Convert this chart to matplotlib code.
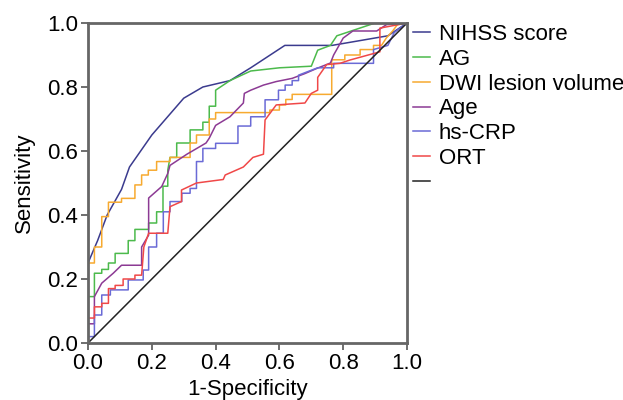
import matplotlib
matplotlib.use("Agg")
import matplotlib.pyplot as plt

plt.rcParams["font.family"] = ["Liberation Sans", "DejaVu Sans"]

# ROC curves (1-specificity, sensitivity)
nihss_x = [0, 0, 0.03, 0.06, 0.105, 0.13, 0.20, 0.30, 0.36, 0.445, 0.51, 0.617, 0.765, 0.94, 1.0]
nihss_y = [0, 0.25, 0.32, 0.40, 0.48, 0.55, 0.65, 0.765, 0.80, 0.82, 0.86, 0.93, 0.93, 0.96, 1.0]

ag_x = [0, 0, 0.02, 0.02, 0.043, 0.043, 0.064, 0.064, 0.085, 0.085, 0.126, 0.126, 0.147, 0.147,
        0.19, 0.19, 0.215, 0.215, 0.235, 0.235, 0.25, 0.25, 0.257, 0.278, 0.278, 0.32, 0.32,
        0.36, 0.36, 0.38, 0.38, 0.40, 0.40, 0.445, 0.51, 0.60, 0.70, 0.72, 0.76, 0.78, 0.90, 1.0]
ag_y = [0, 0.145, 0.145, 0.218, 0.218, 0.23, 0.23, 0.25, 0.25, 0.28, 0.28, 0.32, 0.32, 0.355,
        0.355, 0.375, 0.375, 0.41, 0.41, 0.49, 0.49, 0.54, 0.58, 0.58, 0.625, 0.625, 0.666,
        0.666, 0.69, 0.69, 0.74, 0.74, 0.79, 0.82, 0.85, 0.86, 0.865, 0.915, 0.93, 0.96, 1.0, 1.0]

dwi_x = [0, 0, 0.02, 0.02, 0.043, 0.043, 0.064, 0.064, 0.105, 0.105, 0.147, 0.147, 0.168, 0.168,
         0.189, 0.189, 0.215, 0.215, 0.257, 0.257, 0.32, 0.32, 0.34, 0.34, 0.38, 0.38, 0.40, 0.40,
         0.57, 0.57, 0.60, 0.60, 0.62, 0.62, 0.64, 0.64, 0.764, 0.764, 0.805, 0.805, 0.853, 0.853,
         0.895, 0.895, 0.92, 0.935, 0.955, 0.97, 1.0]
dwi_y = [0, 0.25, 0.25, 0.30, 0.30, 0.395, 0.395, 0.44, 0.44, 0.452, 0.452, 0.494, 0.494, 0.525,
         0.525, 0.54, 0.54, 0.567, 0.567, 0.58, 0.58, 0.625, 0.625, 0.65, 0.65, 0.70, 0.70, 0.72,
         0.72, 0.728, 0.728, 0.744, 0.744, 0.761, 0.761, 0.777, 0.777, 0.885, 0.885, 0.90, 0.90, 0.917,
         0.917, 0.93, 0.93, 0.953, 0.975, 0.995, 1.0]

age_x = [0, 0, 0.02, 0.02, 0.043, 0.079, 0.105, 0.168, 0.168, 0.19, 0.19, 0.231, 0.25, 0.257,
         0.31, 0.37, 0.38, 0.40, 0.445, 0.487, 0.49, 0.51, 0.55, 0.59, 0.64, 0.68, 0.717, 0.76,
         0.77, 0.80, 0.83, 0.905, 0.936, 1.0]
age_y = [0, 0.06, 0.06, 0.145, 0.187, 0.218, 0.243, 0.243, 0.30, 0.337, 0.453, 0.489, 0.53, 0.555,
         0.59, 0.625, 0.64, 0.68, 0.707, 0.75, 0.78, 0.79, 0.806, 0.817, 0.827, 0.842, 0.858, 0.875,
         0.90, 0.953, 0.975, 0.975, 0.995, 1.0]

crp_x = [0, 0, 0.02, 0.02, 0.043, 0.043, 0.07, 0.07, 0.126, 0.126, 0.173, 0.173, 0.19, 0.19,
         0.215, 0.215, 0.236, 0.236, 0.257, 0.257, 0.294, 0.294, 0.32, 0.32, 0.34, 0.34, 0.36, 0.36,
         0.40, 0.40, 0.47, 0.47, 0.51, 0.51, 0.555, 0.555, 0.597, 0.597, 0.618, 0.618, 0.64, 0.64,
         0.66, 0.66, 0.72, 0.77, 0.77, 0.895, 0.895, 0.94, 0.96, 1.0]
crp_y = [0, 0.02, 0.02, 0.0875, 0.0875, 0.15, 0.15, 0.166, 0.166, 0.197, 0.197, 0.228, 0.228, 0.30,
         0.30, 0.343, 0.343, 0.41, 0.41, 0.442, 0.442, 0.468, 0.468, 0.483, 0.483, 0.567, 0.567, 0.608,
         0.608, 0.624, 0.624, 0.678, 0.678, 0.707, 0.707, 0.76, 0.76, 0.79, 0.79, 0.806, 0.806, 0.82,
         0.82, 0.837, 0.86, 0.86, 0.874, 0.874, 0.917, 0.93, 0.97, 1.0]

ort_x = [0, 0, 0.02, 0.02, 0.043, 0.043, 0.064, 0.064, 0.085, 0.085, 0.11, 0.11, 0.147, 0.147,
         0.168, 0.175, 0.19, 0.25, 0.257, 0.293, 0.293, 0.34, 0.424, 0.43, 0.487, 0.517, 0.55,
         0.555, 0.59, 0.68, 0.70, 0.72, 0.72, 0.748, 0.79, 0.82, 0.915, 0.915, 1.0]
ort_y = [0, 0.078, 0.078, 0.113, 0.113, 0.124, 0.124, 0.17, 0.17, 0.18, 0.18, 0.20, 0.20, 0.212,
         0.212, 0.30, 0.343, 0.343, 0.426, 0.442, 0.478, 0.50, 0.511, 0.525, 0.55, 0.58, 0.59,
         0.697, 0.744, 0.75, 0.78, 0.79, 0.83, 0.87, 0.874, 0.884, 0.91, 0.984, 1.0]

ref_x = [0, 1]
ref_y = [0, 1]

series = [
    ("NIHSS score", nihss_x, nihss_y, "#3b3b8e"),
    ("AG", ag_x, ag_y, "#4cba4c"),
    ("DWI lesion volume", dwi_x, dwi_y, "#f7aa30"),
    ("Age", age_x, age_y, "#8c3a94"),
    ("hs-CRP", crp_x, crp_y, "#6a6ad6"),
    ("ORT", ort_x, ort_y, "#f04848"),
    (" ", ref_x, ref_y, "#222222"),
]

fig = plt.figure(figsize=(6.23, 4.0), dpi=100)
ax = fig.add_axes([0.1413, 0.1425, 0.512, 0.80])

handles, labels = [], []
for label, xs, ys, color in series:
    (ln,) = ax.plot(xs, ys, color=color, linewidth=1.1)
    handles.append(ln)
    labels.append(label)

ax.set_xlim(0, 1)
ax.set_ylim(0, 1)
ax.set_xticks([0, 0.2, 0.4, 0.6, 0.8, 1.0])
ax.set_yticks([0, 0.2, 0.4, 0.6, 0.8, 1.0])
ax.set_xticklabels(["0.0", "0.2", "0.4", "0.6", "0.8", "1.0"])
ax.set_yticklabels(["0.0", "0.2", "0.4", "0.6", "0.8", "1.0"])
ax.tick_params(labelsize=16, length=5, width=1.2, color="#555555", pad=2)
for sp in ax.spines.values():
    sp.set_color("#666666")
    sp.set_linewidth(2)
ax.set_xlabel("1-Specificity", fontsize=16, labelpad=4)
ax.set_ylabel("Sensitivity", fontsize=16, labelpad=9)

fig.legend(handles, labels, loc="upper left", bbox_to_anchor=(0.663, 0.94),
           frameon=False, fontsize=16, handlelength=0.75, handletextpad=0.4,
           labelspacing=0.17, borderaxespad=0, borderpad=0)

fig.savefig("out.png", dpi=100)
